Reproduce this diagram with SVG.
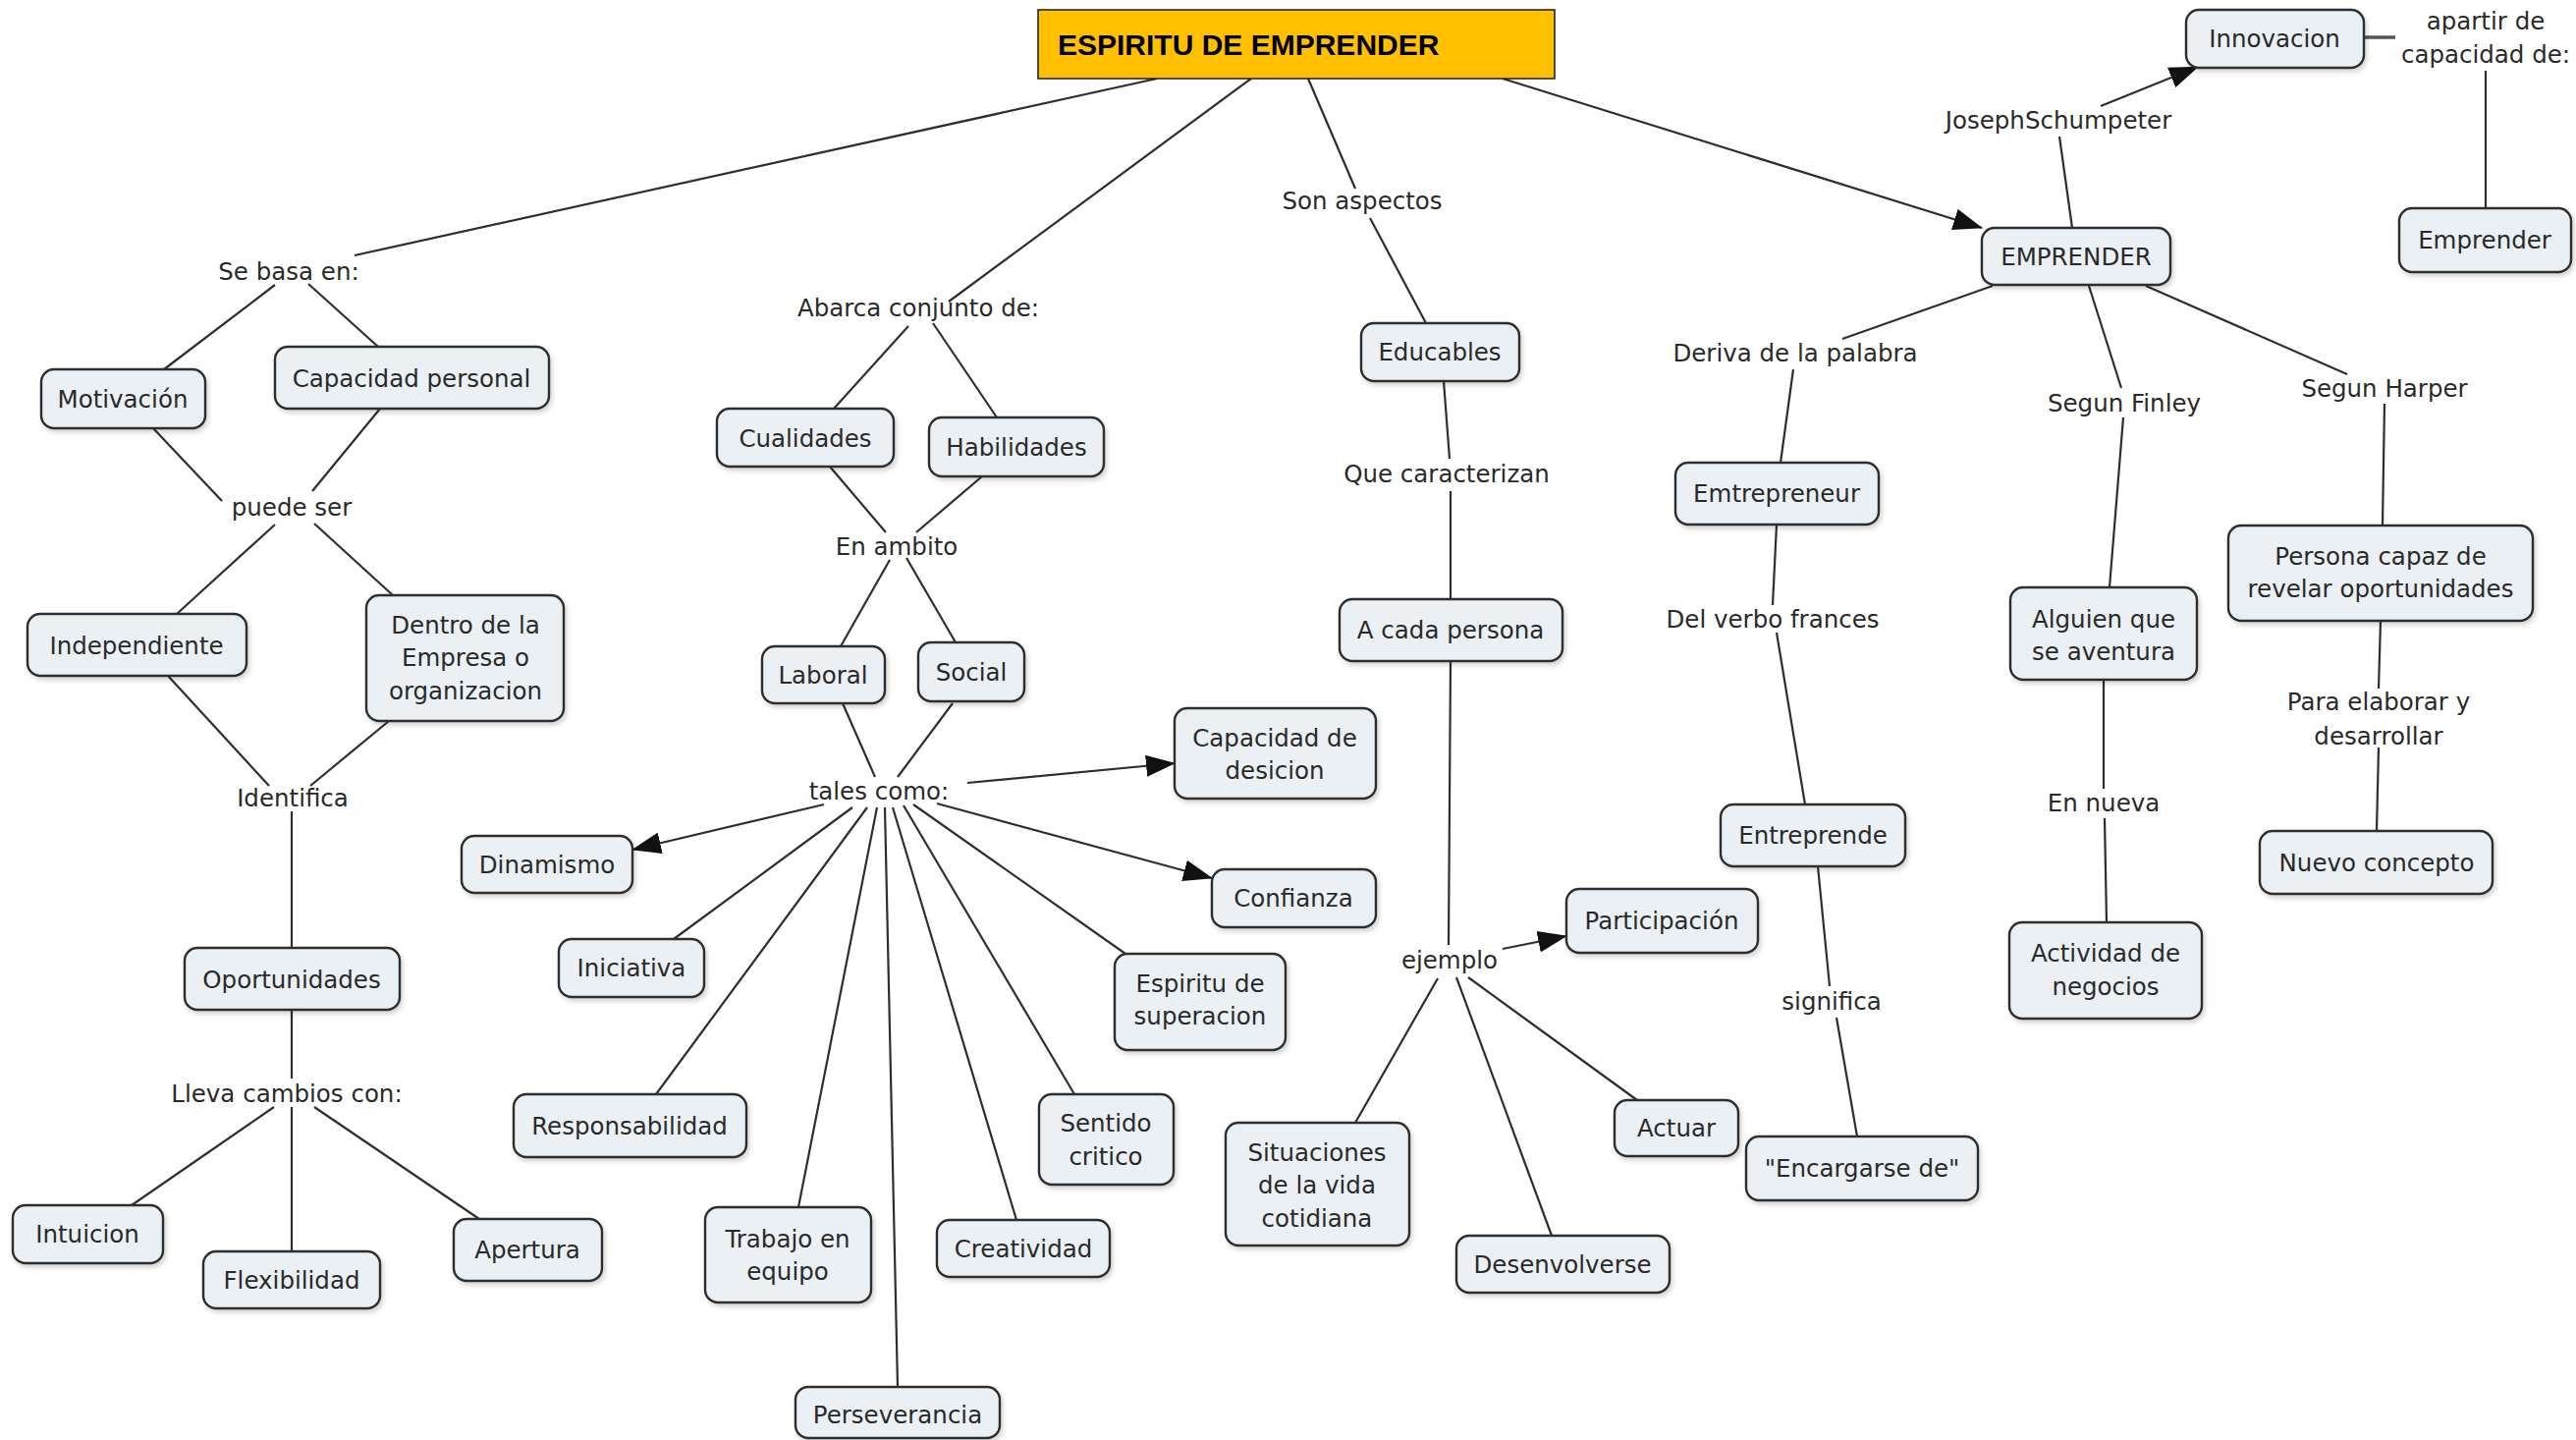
<svg xmlns="http://www.w3.org/2000/svg" width="2623" height="1466" viewBox="0 0 2623 1466">
<style>
.n rect{fill:#EAF0F3;stroke:#2e2e2e;stroke-width:2.4;filter:url(#sh)}
.n text,.l text{font-family:"DejaVu Sans","Verdana",sans-serif;font-size:24.5px;fill:#2a2a2a;text-anchor:middle}
.c line{stroke:#2e2e2e;stroke-width:2.2;fill:none}
.c line.a{marker-end:url(#ah)}
</style>
<defs>
<marker id="ah" markerUnits="userSpaceOnUse" markerWidth="30" markerHeight="22" refX="29" refY="11" orient="auto">
<path d="M0,0 L30,11 L0,22 z" fill="#111"/>
</marker>
<filter id="sh" x="-10%" y="-10%" width="130%" height="140%">
<feDropShadow dx="2" dy="3" stdDeviation="2.5" flood-color="#000" flood-opacity="0.18"/>
</filter>
</defs>
<rect width="2623" height="1466" fill="#ffffff"/>

<g class="c" id="connectors">
<line x1="1178" y1="80" x2="361" y2="260"/>
<line x1="1274" y1="80" x2="966" y2="307"/>
<line x1="1332" y1="80" x2="1380" y2="192"/>
<line class="a" x1="1530" y1="80" x2="2018" y2="232"/>
<line x1="280" y1="290" x2="167" y2="376"/>
<line x1="314" y1="289" x2="385" y2="353"/>
<line x1="156" y1="436" x2="226" y2="510"/>
<line x1="387" y1="416" x2="318" y2="500"/>
<line x1="280" y1="534" x2="180" y2="625"/>
<line x1="320" y1="533" x2="400" y2="606"/>
<line x1="171" y1="688" x2="274" y2="800"/>
<line x1="396" y1="734" x2="316" y2="800"/>
<line x1="297" y1="826" x2="297" y2="965"/>
<line x1="297" y1="1028" x2="297" y2="1098"/>
<line x1="279" y1="1127" x2="134" y2="1227"/>
<line x1="297" y1="1127" x2="297" y2="1274"/>
<line x1="320" y1="1127" x2="488" y2="1241"/>
<line x1="925" y1="332" x2="849" y2="416"/>
<line x1="950" y1="329" x2="1015" y2="425"/>
<line x1="845" y1="475" x2="902" y2="542"/>
<line x1="1000" y1="485" x2="933" y2="542"/>
<line x1="906" y1="570" x2="856" y2="658"/>
<line x1="923" y1="568" x2="973" y2="654"/>
<line x1="858" y1="716" x2="891" y2="791"/>
<line x1="970" y1="716" x2="914" y2="791"/>
<line class="a" x1="985" y1="797" x2="1196" y2="777"/>
<line class="a" x1="839" y1="819" x2="644" y2="865"/>
<line class="a" x1="954" y1="818" x2="1234" y2="894"/>
<line x1="868" y1="822" x2="686" y2="956"/>
<line x1="883" y1="822" x2="668" y2="1114"/>
<line x1="893" y1="822" x2="813" y2="1229"/>
<line x1="901" y1="822" x2="914" y2="1412"/>
<line x1="909" y1="822" x2="1035" y2="1242"/>
<line x1="920" y1="820" x2="1094" y2="1114"/>
<line x1="930" y1="819" x2="1146" y2="971"/>
<line x1="1395" y1="222" x2="1452" y2="329"/>
<line x1="1470" y1="388" x2="1476" y2="467"/>
<line x1="1477" y1="500" x2="1477" y2="610"/>
<line x1="1477" y1="673" x2="1475" y2="962"/>
<line class="a" x1="1530" y1="966" x2="1595" y2="953"/>
<line x1="1464" y1="996" x2="1380" y2="1143"/>
<line x1="1483" y1="995" x2="1580" y2="1258"/>
<line x1="1495" y1="995" x2="1667" y2="1120"/>
<line x1="2110" y1="232" x2="2097" y2="139"/>
<line class="a" x1="2139" y1="108" x2="2238" y2="68"/>
<line x1="2407" y1="38" x2="2439" y2="38" style="stroke:#555;stroke-width:3.5"/>
<line x1="2531" y1="72" x2="2531" y2="212"/>
<line x1="2029" y1="291" x2="1876" y2="345"/>
<line x1="1826" y1="376" x2="1813" y2="471"/>
<line x1="1809" y1="534" x2="1805" y2="616"/>
<line x1="1809" y1="644" x2="1838" y2="819"/>
<line x1="1851" y1="882" x2="1863" y2="1004"/>
<line x1="1870" y1="1036" x2="1891" y2="1157"/>
<line x1="2127" y1="291" x2="2160" y2="395"/>
<line x1="2162" y1="425" x2="2148" y2="598"/>
<line x1="2142" y1="692" x2="2142" y2="803"/>
<line x1="2143" y1="833" x2="2145" y2="939"/>
<line x1="2185" y1="291" x2="2390" y2="381"/>
<line x1="2428" y1="411" x2="2426" y2="535"/>
<line x1="2424" y1="632" x2="2422" y2="701"/>
<line x1="2422" y1="761" x2="2420" y2="846"/>
</g>

<g id="title">
<rect x="1057" y="10" width="526" height="70" fill="#FFC000" stroke="#1a1a1a" stroke-width="1.5"/>
<text x="1077" y="56" font-family="Liberation Sans, Arial, sans-serif" font-weight="bold" font-size="30" fill="#000">ESPIRITU DE EMPRENDER</text>
</g>

<g class="l" id="labels">
<text x="294" y="285">Se basa en:</text>
<text x="297" y="525">puede ser</text>
<text x="298" y="821">Identifica</text>
<text x="292" y="1122">Lleva cambios con:</text>
<text x="935" y="322">Abarca conjunto de:</text>
<text x="913" y="565">En ambito</text>
<text x="895" y="814">tales como:</text>
<text x="1387" y="213">Son aspectos</text>
<text x="1473" y="491">Que caracterizan</text>
<text x="1476" y="986">ejemplo</text>
<text x="1828" y="368">Deriva de la palabra</text>
<text x="1805" y="639">Del verbo frances</text>
<text x="1865" y="1028">significa</text>
<text x="2096" y="131">JosephSchumpeter</text>
<text x="2531"><tspan x="2531" y="30">apartir de</tspan><tspan x="2531" y="64">capacidad de:</tspan></text>
<text x="2163" y="419">Segun Finley</text>
<text x="2428" y="404">Segun Harper</text>
<text x="2142" y="826">En nueva</text>
<text x="2422"><tspan x="2422" y="723">Para elaborar y</tspan><tspan x="2422" y="758">desarrollar</tspan></text>
</g>

<g class="n" id="n-motivacion"><rect x="42" y="376" width="167" height="60" rx="13"/><text x="125" y="415">Motivación</text></g>
<g class="n" id="n-capacidad-personal"><rect x="280" y="353" width="279" height="63" rx="13"/><text x="419" y="394">Capacidad personal</text></g>
<g class="n" id="n-independiente"><rect x="28" y="625" width="223" height="63" rx="13"/><text x="139" y="666">Independiente</text></g>
<g class="n" id="n-dentro"><rect x="373" y="606" width="201" height="128" rx="13"/><text><tspan x="474" y="645">Dentro de la</tspan><tspan x="474" y="678">Empresa o</tspan><tspan x="474" y="712">organizacion</tspan></text></g>
<g class="n" id="n-oportunidades"><rect x="188" y="965" width="219" height="63" rx="13"/><text x="297" y="1006">Oportunidades</text></g>
<g class="n" id="n-intuicion"><rect x="13" y="1227" width="153" height="59" rx="13"/><text x="89" y="1265">Intuicion</text></g>
<g class="n" id="n-flexibilidad"><rect x="207" y="1274" width="180" height="58" rx="13"/><text x="297" y="1312">Flexibilidad</text></g>
<g class="n" id="n-apertura"><rect x="462" y="1241" width="151" height="63" rx="13"/><text x="537" y="1281">Apertura</text></g>
<g class="n" id="n-cualidades"><rect x="730" y="416" width="180" height="59" rx="13"/><text x="820" y="455">Cualidades</text></g>
<g class="n" id="n-habilidades"><rect x="946" y="425" width="178" height="60" rx="13"/><text x="1035" y="464">Habilidades</text></g>
<g class="n" id="n-laboral"><rect x="776" y="658" width="125" height="58" rx="13"/><text x="838" y="696">Laboral</text></g>
<g class="n" id="n-social"><rect x="935" y="654" width="108" height="60" rx="13"/><text x="989" y="693">Social</text></g>
<g class="n" id="n-dinamismo"><rect x="470" y="851" width="174" height="58" rx="13"/><text x="557" y="889">Dinamismo</text></g>
<g class="n" id="n-iniciativa"><rect x="569" y="956" width="148" height="59" rx="13"/><text x="643" y="994">Iniciativa</text></g>
<g class="n" id="n-responsabilidad"><rect x="523" y="1114" width="237" height="64" rx="13"/><text x="641" y="1155">Responsabilidad</text></g>
<g class="n" id="n-trabajo"><rect x="718" y="1229" width="169" height="97" rx="13"/><text><tspan x="802" y="1270">Trabajo en</tspan><tspan x="802" y="1303">equipo</tspan></text></g>
<g class="n" id="n-perseverancia"><rect x="810" y="1412" width="208" height="52" rx="13"/><text x="914" y="1449">Perseverancia</text></g>
<g class="n" id="n-creatividad"><rect x="954" y="1242" width="176" height="58" rx="13"/><text x="1042" y="1280">Creatividad</text></g>
<g class="n" id="n-sentido"><rect x="1058" y="1114" width="137" height="92" rx="13"/><text><tspan x="1126" y="1152">Sentido</tspan><tspan x="1126" y="1186">critico</tspan></text></g>
<g class="n" id="n-espiritu"><rect x="1135" y="971" width="174" height="98" rx="13"/><text><tspan x="1222" y="1010">Espiritu de</tspan><tspan x="1222" y="1043">superacion</tspan></text></g>
<g class="n" id="n-capacidad-desicion"><rect x="1196" y="721" width="205" height="92" rx="13"/><text><tspan x="1298" y="760">Capacidad de</tspan><tspan x="1298" y="793">desicion</tspan></text></g>
<g class="n" id="n-confianza"><rect x="1234" y="885" width="167" height="59" rx="13"/><text x="1317" y="923">Confianza</text></g>
<g class="n" id="n-educables"><rect x="1386" y="329" width="161" height="59" rx="13"/><text x="1466" y="367">Educables</text></g>
<g class="n" id="n-a-cada-persona"><rect x="1364" y="610" width="227" height="63" rx="13"/><text x="1477" y="650">A cada persona</text></g>
<g class="n" id="n-participacion"><rect x="1595" y="905" width="195" height="65" rx="13"/><text x="1692" y="946">Participación</text></g>
<g class="n" id="n-situaciones"><rect x="1248" y="1143" width="187" height="125" rx="13"/><text><tspan x="1341" y="1182">Situaciones</tspan><tspan x="1341" y="1215">de la vida</tspan><tspan x="1341" y="1249">cotidiana</tspan></text></g>
<g class="n" id="n-actuar"><rect x="1644" y="1120" width="126" height="57" rx="13"/><text x="1707" y="1157">Actuar</text></g>
<g class="n" id="n-desenvolverse"><rect x="1483" y="1258" width="217" height="58" rx="13"/><text x="1591" y="1296">Desenvolverse</text></g>
<g class="n" id="n-emprender-main"><rect x="2018" y="232" width="192" height="58" rx="13"/><text x="2114" y="270">EMPRENDER</text></g>
<g class="n" id="n-innovacion"><rect x="2226" y="10" width="181" height="59" rx="13"/><text x="2316" y="48">Innovacion</text></g>
<g class="n" id="n-emprender"><rect x="2443" y="212" width="175" height="65" rx="13"/><text x="2530" y="253">Emprender</text></g>
<g class="n" id="n-emtrepreneur"><rect x="1706" y="471" width="207" height="63" rx="13"/><text x="1809" y="511">Emtrepreneur</text></g>
<g class="n" id="n-entreprende"><rect x="1752" y="819" width="188" height="63" rx="13"/><text x="1846" y="859">Entreprende</text></g>
<g class="n" id="n-encargarse"><rect x="1778" y="1157" width="236" height="65" rx="13"/><text x="1896" y="1198">"Encargarse de"</text></g>
<g class="n" id="n-alguien"><rect x="2047" y="598" width="190" height="94" rx="13"/><text><tspan x="2142" y="639">Alguien que</tspan><tspan x="2142" y="672">se aventura</tspan></text></g>
<g class="n" id="n-actividad"><rect x="2046" y="939" width="196" height="98" rx="13"/><text><tspan x="2144" y="979">Actividad de</tspan><tspan x="2144" y="1013">negocios</tspan></text></g>
<g class="n" id="n-persona"><rect x="2269" y="535" width="310" height="97" rx="13"/><text><tspan x="2424" y="575">Persona capaz de</tspan><tspan x="2424" y="608">revelar oportunidades</tspan></text></g>
<g class="n" id="n-nuevo-concepto"><rect x="2301" y="846" width="237" height="64" rx="13"/><text x="2420" y="887">Nuevo concepto</text></g>
</svg>
